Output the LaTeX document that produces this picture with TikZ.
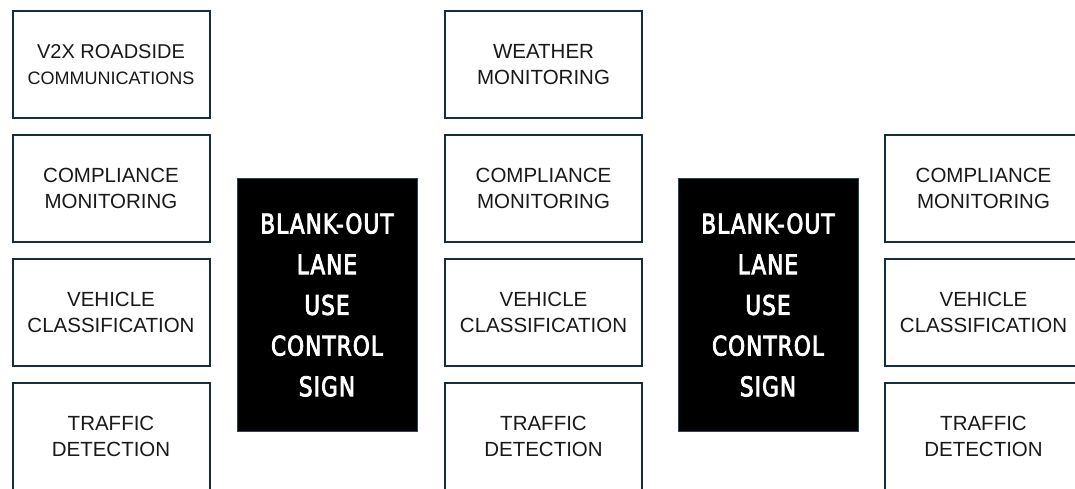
\documentclass[tikz,border=0pt]{standalone}
\usepackage{fontspec}
\setmainfont{Liberation Sans}
\newfontfamily\signfont{DejaVu Sans}[FakeStretch=0.8,FakeBold=3,LetterSpace=4]
\definecolor{edge}{RGB}{22,45,60}
\definecolor{signedge}{RGB}{40,70,85}
\definecolor{txt}{RGB}{25,25,25}
\begin{document}
\begin{tikzpicture}[x=1pt,y=-1pt,
  infobox/.style={draw=edge,line width=2pt,fill=white,minimum width=197pt,minimum height=107pt,inner sep=0pt,align=center,text=txt,font=\fontsize{20.5}{26}\selectfont},
  signbox/.style={draw=signedge,line width=1pt,fill=black,minimum width=180pt,minimum height=252pt,inner sep=0pt,align=center,text=white,font=\signfont\fontsize{27}{40.7}\selectfont}]
\useasboundingbox (0,0) rectangle (1075,489);
% left column
\node[infobox] (l1) at (111,64.5) {{\fontsize{20}{25}\selectfont V2X ROADSIDE}\\{\fontsize{18}{25}\selectfont COMMUNICATIONS}};
\node[infobox] (l2) at (111,188.5) {COMPLIANCE\\MONITORING};
\node[infobox] (l3) at (111,312.5) {VEHICLE\\CLASSIFICATION};
\node[infobox] (l4) at (111,436.5) {TRAFFIC\\DETECTION};
% sign 1
\node[signbox] (s1) at (327,305) {BLANK-OUT\\LANE\\USE\\CONTROL\\SIGN};
% middle column
\node[infobox] (m1) at (543.5,64.5) {WEATHER\\MONITORING};
\node[infobox] (m2) at (543.5,188.5) {COMPLIANCE\\MONITORING};
\node[infobox] (m3) at (543.5,312.5) {VEHICLE\\CLASSIFICATION};
\node[infobox] (m4) at (543.5,436.5) {TRAFFIC\\DETECTION};
% sign 2
\node[signbox] (s2) at (768,305) {BLANK-OUT\\LANE\\USE\\CONTROL\\SIGN};
% right column
\node[infobox] (r2) at (983.5,188.5) {COMPLIANCE\\MONITORING};
\node[infobox] (r3) at (983.5,312.5) {VEHICLE\\CLASSIFICATION};
\node[infobox] (r4) at (983.5,436.5) {TRAFFIC\\DETECTION};
\end{tikzpicture}
\end{document}
